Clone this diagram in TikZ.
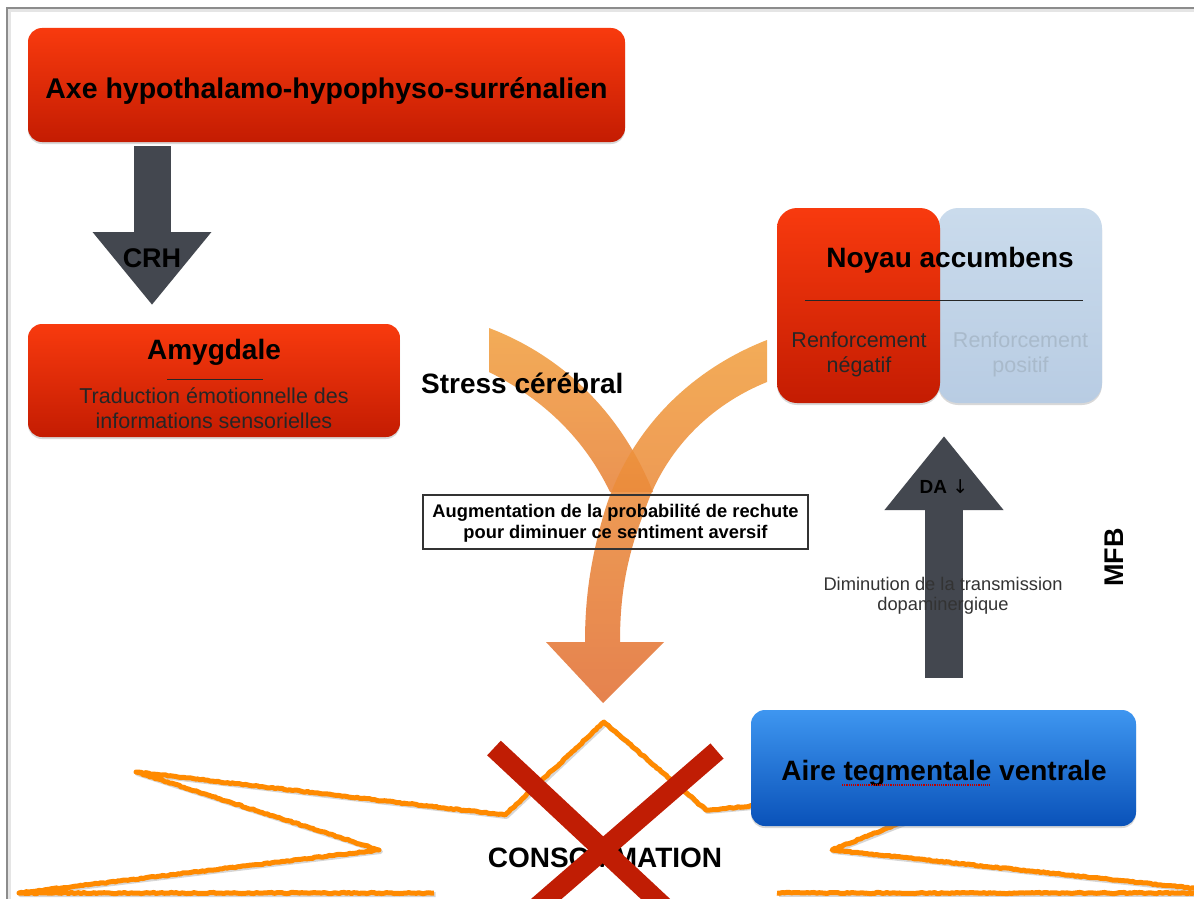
\documentclass[tikz,border=0pt]{standalone}
\usepackage{fontspec}
\setmainfont{Liberation Sans}
\newfontfamily\djv{DejaVu Sans}
\usetikzlibrary{arrows.meta,shadows,decorations.pathmorphing,calc}
\definecolor{redT}{HTML}{F83A0E}
\definecolor{redB}{HTML}{C41C02}
\definecolor{bluT}{HTML}{3E96F0}
\definecolor{bluB}{HTML}{0A52B9}
\definecolor{lbT}{HTML}{CADBEC}
\definecolor{lbB}{HTML}{B8CCE3}
\definecolor{arrG}{HTML}{43474F}
\definecolor{orT}{HTML}{F2A040}
\definecolor{orB}{HTML}{E27034}
\definecolor{starO}{HTML}{FF8A00}
\definecolor{xred}{HTML}{C01D04}
\definecolor{frameG}{HTML}{8C8C8C}
\definecolor{posG}{HTML}{A9BACB}
\begin{document}
\begin{tikzpicture}[x=1pt,y=-1pt,
  box/.style={rounded corners=14pt, inner sep=0pt, drop shadow={opacity=0.3, shadow xshift=0pt, shadow yshift=-2pt}},
  redbox/.style={box, top color=redT, bottom color=redB},
  bluebox/.style={box, top color=bluT, bottom color=bluB},
  lbbox/.style={box, top color=lbT, bottom color=lbB},
  big/.style={font=\fontsize{28}{32}\selectfont\bfseries, inner sep=0pt, anchor=base},
  mid/.style={font=\fontsize{21.5}{25}\selectfont, inner sep=0pt, anchor=base},
  small/.style={font=\fontsize{18.3}{22}\selectfont, inner sep=0pt, anchor=base},
  fat/.style={line width=38pt, arrG, -{Triangle[length=74pt,width=114pt]}},
  starline/.style={starO, line width=5pt, line join=round, decorate, decoration={random steps, segment length=2.5pt, amplitude=0.6pt}},
  starshadow/.style={black!45, opacity=0.35, line width=5pt, line join=round},
  xbar/.style={xred, line width=20pt}
]
\useasboundingbox (0,0) rectangle (1194,899);
\clip (0,0) rectangle (1194,899);
\fill[white] (0,0) rectangle (1194,899);

% frame
\draw[frameG, line width=2.2pt] (7,905) -- (7,8) -- (1200,8);
\draw[black!10, line width=3pt] (9.5,905) -- (9.5,10.5) -- (1200,10.5);

% top box
\node[redbox, minimum width=597pt, minimum height=114pt] (hpa) at (326.5,85) {};
\node[big, font=\fontsize{28.5}{32}\selectfont\bfseries] (hpaT) at (326.5,99) {Axe hypothalamo-hypophyso-surrénalien};

% CRH arrow
\coordinate (crhA) at (152,146);
\coordinate (crhB) at (152,305);
\draw[fat, line width=37pt, -{Triangle[length=73pt,width=114pt]}] (crhA) -- (crhB);
\node[big, font=\fontsize{27}{30}\selectfont\bfseries] (crh) at (152,267) {CRH};

% amygdale
\node[redbox, minimum width=372pt, minimum height=113pt] (amy) at (214,380.5) {};
\node[big] (amyT) at (214,359) {Amygdale};
\draw[black!85, line width=1pt] (167,379) -- (263,379);
\node[mid, text=black!85] (amy1) at (214,403) {Traduction émotionnelle des};
\node[mid, text=black!85] (amy2) at (214,428) {informations sensorielles};

% orange Y arrow
\coordinate (lbA) at (489,328);
\coordinate (rbA) at (767,340);
\coordinate (tip) at (603,703);
\shade[top color=orT, bottom color=orB!60!orT, fill opacity=0.87]
  (lbA) .. controls (560,355) and (620,410) .. (653,492)
  -- (610,492) .. controls (585,440) and (545,400) .. (489,372) -- cycle;
\shade[top color=orT, bottom color=orB, fill opacity=0.87]
  (rbA) .. controls (690,370) and (630,430) .. (605,510)
  .. controls (590,560) and (585,600) .. (585,642)
  -- (546,642) -- (tip) -- (664,642) -- (620,642)
  .. controls (620,600) and (625,560) .. (645,510)
  .. controls (665,450) and (710,405) .. (767,382) -- cycle;

\node[big, anchor=base west] (stress) at (421,393) {Stress cérébral};

% augmentation box
\node[draw=black!80, line width=1.3pt, minimum width=385pt, minimum height=54pt, inner sep=0pt] (aug) at (615.5,522) {};
\node[small, font=\fontsize{18.3}{22}\selectfont\bfseries] (aug1) at (615.5,517) {Augmentation de la probabilité de rechute};
\node[small, font=\fontsize{18.3}{22}\selectfont\bfseries] (aug2) at (615.5,538) {pour diminuer ce sentiment aversif};

% noyau accumbens
\node[lbbox, rounded corners=20pt, minimum width=164pt, minimum height=195pt] (nacB) at (1020,305.5) {};
\node[redbox, rounded corners=20pt, minimum width=163pt, minimum height=195pt] (nacR) at (858.5,305.5) {};
\node[big] (nacT) at (950,267) {Noyau accumbens};
\draw[black!85, line width=1pt] (805,300) -- (1083,300);
\node[mid, text=black!85] (neg1) at (859,347) {Renforcement};
\node[mid, text=black!85] (neg2) at (859,372) {négatif};
\node[mid, text=posG] (pos1) at (1020.5,347) {Renforcement};
\node[mid, text=posG] (pos2) at (1020.5,372) {positif};

% DA arrow
\coordinate (daA) at (944,678);
\coordinate (daB) at (944,436);
\draw[fat] (daA) -- (daB);
\node[big, font=\fontsize{19}{22}\selectfont\bfseries] (da) at (944,493) {DA {\djv\mdseries ↓}};
\node[small, text=black!80] (dim1) at (943,590) {Diminution de la transmission};
\node[small, text=black!80] (dim2) at (943,610) {dopaminergique};
\node[big, font=\fontsize{27}{30}\selectfont\bfseries, rotate=90] (mfb) at (1123,557.5) {MFB};

% consommation star
\pgfmathsetseed{7}
\draw[starshadow, shift={(1.5,1.5)}] (434,893) -- (19,893) -- (379,850) -- (136,772) -- (505,815) -- (604,722) -- (706,810) -- (1000,784) -- (832,850) -- (1200,889);
\draw[starshadow, shift={(1.5,1.5)}] (777,893) -- (1200,893);
\draw[starline] (434,893) -- (19,893) -- (379,850) -- (136,772) -- (505,815) -- (604,722) -- (706,810) -- (1000,784) -- (832,850) -- (1200,889);
\draw[starline] (777,893) -- (1200,893);

% ATV
\node[bluebox, minimum width=385pt, minimum height=116pt] (atv) at (943.5,768) {};
\node[big] (atvT) at (944,780) {Aire tegmentale ventrale};
\draw[red!75!black, densely dotted, line width=1.2pt] (842,785) -- (990,785);

% consommation text and cross
\node[big] (conso) at (605,867) {CONSOMMATION};
\coordinate (x1a) at (494,748);
\coordinate (x1b) at (678,920);
\coordinate (x2a) at (717,751);
\coordinate (x2b) at (522,920);
\draw[xbar] (x1a) -- (x1b);
\draw[xbar] (x2a) -- (x2b);
\end{tikzpicture}
\end{document}
